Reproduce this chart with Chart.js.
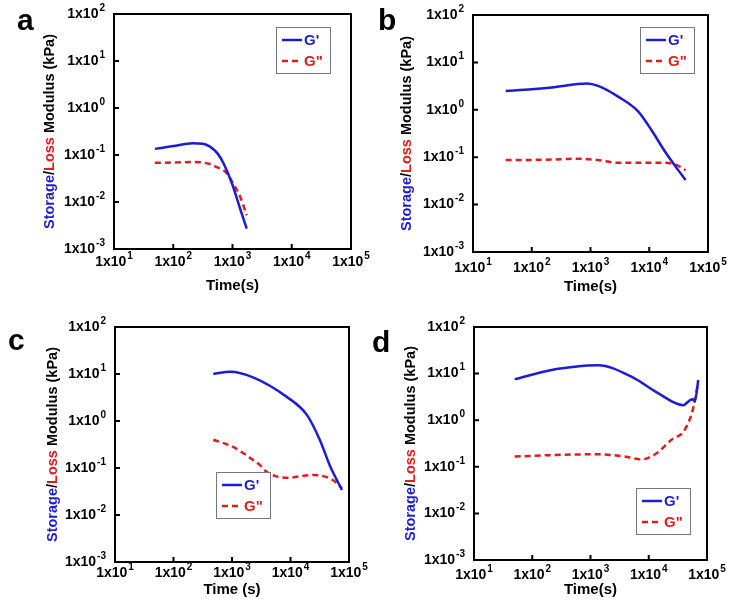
<!DOCTYPE html>
<html>
<head>
<meta charset="utf-8">
<script src="https://cdn.jsdelivr.net/npm/chart.js@4/dist/chart.umd.min.js"></script>
<style>
  body { margin: 0; background: #fff; width: 731px; height: 608px; position: relative; overflow: hidden; }
  canvas { position: absolute; }
</style>
</head>
<body>
<canvas id="pa" width="390" height="300" style="left:0;top:0"></canvas>
<canvas id="pb" width="366" height="300" style="left:365px;top:0"></canvas>
<canvas id="pc" width="390" height="308" style="left:0;top:300px"></canvas>
<canvas id="pd" width="366" height="308" style="left:365px;top:300px"></canvas>
<script>
// axis ticks (decades)
const xTicks = [10, 100, 1000, 10000, 100000];
const xTickExp = ['1', '2', '3', '4', '5'];
const yTicks = [0.001, 0.01, 0.1, 1, 10, 100];
const yTickExp = ['-3', '-2', '-1', '0', '1', '2'];

// panel a
const tA1 = [49, 100, 214, 316, 417, 562, 708, 977, 1349, 1738];
const gA1 = [0.135, 0.155, 0.178, 0.174, 0.151, 0.107, 0.066, 0.025, 0.0071, 0.0027];
const tA2 = [49, 100, 214, 400, 480, 800, 1020, 1350, 1740];
const gA2 = [0.068, 0.069, 0.071, 0.065, 0.059, 0.041, 0.025, 0.0129, 0.0052];

// panel b
const tB1 = [36, 100, 219, 871, 1349, 2951, 6457, 10965, 18621, 30903, 41687];
const gB1 = [2.5, 2.7, 2.95, 3.6, 3.2, 1.9, 0.93, 0.37, 0.13, 0.054, 0.033];
const tB2 = [36, 219, 631, 1349, 2951, 6457, 18621, 28840, 41687];
const gB2 = [0.087, 0.089, 0.093, 0.087, 0.076, 0.076, 0.076, 0.069, 0.053];

// panel c
const tC1 = [479, 933, 2291, 8511, 19055, 31623, 47863, 75858];
const gC1 = [10, 11.2, 8.5, 3.3, 1.35, 0.4, 0.107, 0.034];
const tC2 = [479, 1047, 2291, 3020, 3890, 8511, 24547, 53703, 75858];
const gC2 = [0.4, 0.28, 0.148, 0.115, 0.083, 0.062, 0.071, 0.055, 0.037];

// panel d
const tD1 = [50, 214, 537, 1349, 5129, 14454, 38905, 51286, 57544, 61660, 70795];
const gD1 = [7.6, 12, 14.1, 15.1, 8.5, 3.8, 2.1, 2.7, 2.8, 2.5, 7.3];
const tD2 = [50, 214, 1349, 3890, 7586, 12882, 24547, 41687, 58884, 70795];
const gD2 = [0.166, 0.178, 0.186, 0.166, 0.144, 0.186, 0.38, 0.63, 1.95, 6.7];

const BLUE = '#1c1cd6';
const RED = '#e31b1b';
const FONT = '"Liberation Sans", Arial, sans-serif';

function pts(t, g) {
  return t.map((x, i) => ({ x: x, y: g[i] }));
}

function supText(ctx, base, exp, x, y, align) {
  ctx.font = 'bold 14px ' + FONT;
  const w1 = ctx.measureText(base).width;
  ctx.font = 'bold 10px ' + FONT;
  const w2 = ctx.measureText(exp).width;
  const total = w1 + 1 + w2;
  const x0 = align === 'center' ? x - total / 2 : x - total;
  ctx.textAlign = 'left';
  ctx.textBaseline = 'middle';
  ctx.fillStyle = '#000';
  ctx.font = 'bold 14px ' + FONT;
  ctx.fillText(base, x0, y);
  ctx.font = 'bold 10px ' + FONT;
  ctx.fillText(exp, x0 + w1 + 1, y - 6);
}

const framePlugin = {
  id: 'frame',
  afterDraw(chart, args, o) {
    const ctx = chart.ctx;
    const a = chart.chartArea;
    const xs = chart.scales.x, ys = chart.scales.y;
    ctx.save();
    ctx.strokeStyle = '#000';
    ctx.lineWidth = 2;
    ctx.setLineDash([]);
    ctx.strokeRect(a.left, a.top, a.right - a.left, a.bottom - a.top);
    // inward ticks
    ctx.beginPath();
    xTicks.forEach(v => {
      const px = xs.getPixelForValue(v);
      ctx.moveTo(px, a.bottom); ctx.lineTo(px, a.bottom - 5);
    });
    yTicks.forEach(v => {
      const py = ys.getPixelForValue(v);
      ctx.moveTo(a.left, py); ctx.lineTo(a.left + 5, py);
    });
    ctx.stroke();
    // tick labels
    xTicks.forEach((v, i) => supText(ctx, '1x10', xTickExp[i], xs.getPixelForValue(v), a.bottom + o.xLabelDy, 'center'));
    yTicks.forEach((v, i) => supText(ctx, '1x10', yTickExp[i], a.left - 9, ys.getPixelForValue(v), 'right'));
    // x title
    ctx.font = 'bold 15px ' + FONT;
    ctx.fillStyle = '#000';
    ctx.textAlign = 'center';
    ctx.textBaseline = 'middle';
    ctx.fillText(o.xTitle, (a.left + a.right) / 2, a.bottom + o.xTitleDy);
    // y title, three colours
    const parts = [['Storage', BLUE], ['/', '#000'], ['Loss', RED], [' Modulus (kPa)', '#000']];
    ctx.font = 'bold 14.5px ' + FONT;
    const total = parts.reduce((s, p) => s + ctx.measureText(p[0]).width, 0);
    ctx.translate(o.yTitleX, (a.top + a.bottom) / 2);
    ctx.rotate(-Math.PI / 2);
    ctx.textAlign = 'left';
    let cx = -total / 2;
    parts.forEach(p => {
      ctx.fillStyle = p[1];
      ctx.fillText(p[0], cx, 0);
      cx += ctx.measureText(p[0]).width;
    });
    ctx.setTransform(1, 0, 0, 1, 0, 0);
    // panel letter
    ctx.font = 'bold 30px ' + FONT;
    ctx.fillStyle = '#000';
    ctx.textBaseline = 'alphabetic';
    ctx.fillText(o.letter, o.letterX, o.letterY);
    // legend
    const L = o.legend;
    ctx.fillStyle = '#fff';
    ctx.fillRect(L.x, L.y, 54, 46);
    ctx.strokeStyle = '#777';
    ctx.lineWidth = 1;
    ctx.strokeRect(L.x + 0.5, L.y + 0.5, 54, 46);
    chart.data.datasets.forEach((ds, i) => {
      const ly = L.y + 13 + i * 21;
      ctx.strokeStyle = ds.borderColor;
      ctx.lineWidth = 2.5;
      ctx.setLineDash(ds.borderDash || []);
      ctx.beginPath();
      ctx.moveTo(L.x + 6, ly); ctx.lineTo(L.x + 26, ly);
      ctx.stroke();
      ctx.setLineDash([]);
      ctx.fillStyle = ds.borderColor;
      ctx.font = 'bold 15px ' + FONT;
      ctx.textAlign = 'left';
      ctx.textBaseline = 'middle';
      ctx.fillText(ds.label, L.x + 28, ly + 1);
    });
    ctx.restore();
  }
};

function makePanel(id, gp, gpp, p) {
  new Chart(document.getElementById(id), {
    type: 'line',
    data: {
      datasets: [
        { label: "G'", data: gp, borderColor: BLUE, borderWidth: 2.5, pointRadius: 0, cubicInterpolationMode: 'monotone', fill: false },
        { label: 'G"', data: gpp, borderColor: RED, borderWidth: 2.5, borderDash: [6, 4], pointRadius: 0, cubicInterpolationMode: 'monotone', fill: false }
      ]
    },
    options: {
      responsive: false,
      animation: false,
      layout: { padding: { left: 0, right: p.right, top: p.top, bottom: 0 } },
      plugins: { legend: { display: false }, tooltip: { enabled: false }, frame: p },
      scales: {
        x: {
          type: 'logarithmic', min: 10, max: 100000,
          grid: { display: false }, border: { display: false },
          ticks: { display: false },
          afterFit: s => { s.height = p.bottom; }
        },
        y: {
          type: 'logarithmic', min: 0.001, max: 100,
          grid: { display: false }, border: { display: false },
          ticks: { display: false },
          afterFit: s => { s.width = p.left; }
        }
      }
    },
    plugins: [framePlugin]
  });
}

makePanel('pa', pts(tA1, gA1), pts(tA2, gA2), {
  left: 114, right: 39, top: 14, bottom: 51, xLabelDy: 13, xTitleDy: 37, xTitle: 'Time(s)',
  yTitleX: 50, letter: 'a', letterX: 17, letterY: 30, legend: { x: 276, y: 27 }
});
makePanel('pb', pts(tB1, gB1), pts(tB2, gB2), {
  left: 108, right: 23, top: 15, bottom: 48, xLabelDy: 16, xTitleDy: 35, xTitle: 'Time(s)',
  yTitleX: 42, letter: 'b', letterX: 13, letterY: 30, legend: { x: 275, y: 27 }
});
makePanel('pc', pts(tC1, gC1), pts(tC2, gC2), {
  left: 115, right: 41, top: 27, bottom: 46, xLabelDy: 11, xTitleDy: 28, xTitle: 'Time (s)',
  yTitleX: 53, letter: 'c', letterX: 8, letterY: 50, legend: { x: 216, y: 172 }
});
makePanel('pd', pts(tD1, gD1), pts(tD2, gD2), {
  left: 109, right: 24, top: 27, bottom: 48, xLabelDy: 15, xTitleDy: 30, xTitle: 'Time(s)',
  yTitleX: 46, letter: 'd', letterX: 7, letterY: 52, legend: { x: 271, y: 188 }
});
</script>
</body>
</html>
